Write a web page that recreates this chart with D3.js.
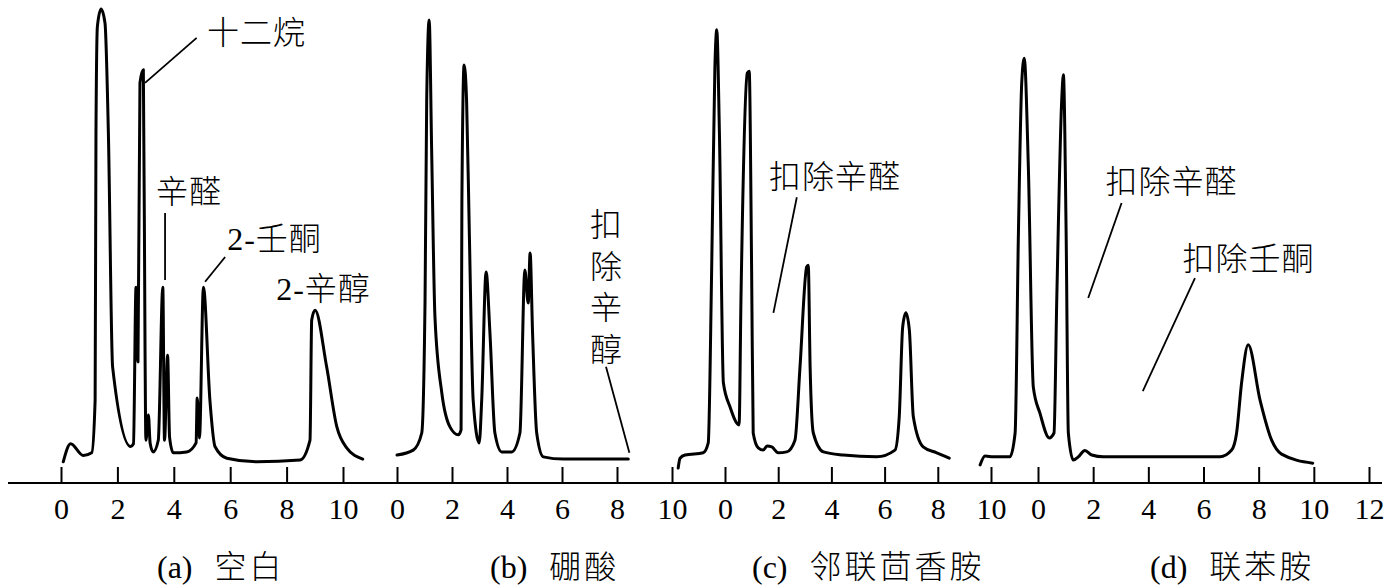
<!DOCTYPE html>
<html><head><meta charset="utf-8">
<script src="https://cdn.jsdelivr.net/npm/d3@7"></script>
<style>
html,body{margin:0;padding:0;background:#fff;}
svg text{font-family:"Liberation Serif","Noto Sans CJK SC",serif;fill:#000;font-weight:300;}
</style></head>
<body><svg id="chart" width="1395" height="587"></svg>
<script>
// ---------- data (time in min, signal in arbitrary units) ----------
const panelLetters = ["(a)", "(b)", "(c)", "(d)"];
const panelNames = ["空白", "硼酸", "邻联茴香胺", "联苯胺"];
const ticksA = [0, 2, 4, 6, 8, 10];
const ticksB = [0, 2, 4, 6, 8, 10];
const ticksC = [0, 2, 4, 6, 8, 10];
const ticksD = [0, 2, 4, 6, 8, 10, 12];

const timeA = [0.08,0.34,0.79,1.09,1.21,1.24,1.29,1.42,1.56,1.68,1.83,2.47,2.57,2.66,2.73,2.80,2.92,2.98,3.01,3.10,3.16,3.27,3.45,3.61,3.67,3.78,3.85,3.98,4.46,4.79,4.83,4.91,5.05,5.28,5.46,5.88,6.94,8.48,8.83,8.89,9.01,9.42,9.78,10.13,10.70];
const signalA = [-0.4,3.6,1.0,1.6,13.3,72.7,96.3,100.2,97.1,72.7,20.7,3.0,3.6,38.4,21.8,83.8,86.7,24.4,4.4,10.0,3.8,1.8,4.4,38.4,4.4,23.3,5.1,1.6,1.8,3.8,13.8,4.9,38.4,13.3,3.0,0.4,-0.4,0.0,4.4,31.1,33.3,20.7,7.4,2.7,0.2];

const timeB = [0.0,0.59,0.90,1.02,1.08,1.17,1.26,1.38,1.63,1.93,2.23,2.33,2.36,2.44,2.53,2.63,2.77,2.99,3.08,3.24,3.38,3.56,3.81,4.17,4.47,4.65,4.77,4.84,4.93,5.08,5.32,6.05,8.41];
const signalB = [1.1,2.2,6.0,35.6,80.0,97.8,68.9,31.8,14.9,7.3,5.6,6.7,57.8,87.8,80.0,50.4,13.3,3.8,13.3,41.8,28.2,6.0,1.8,1.8,6.0,42.2,34.9,46.0,28.2,6.0,0.7,0.2,0.2];

const timeC = [-1.76,-1.69,-1.50,-0.82,-0.63,-0.50,-0.38,-0.31,-0.21,-0.06,0.19,0.53,0.60,0.84,0.91,1.00,1.06,1.25,1.44,1.58,1.76,2.00,2.32,2.63,2.82,3.07,3.13,3.20,3.32,3.70,4.45,5.70,6.39,6.55,6.68,6.80,6.93,7.08,7.45,7.96,8.43];
const signalC = [-1.8,0.4,1.1,1.6,3.8,42.9,87.3,95.6,72.7,17.1,11.8,7.8,35.6,86.0,86.4,42.9,6.0,2.7,2.2,3.1,2.9,1.6,1.8,4.4,20.7,42.9,43.3,20.7,6.0,1.8,1.1,0.7,2.2,9.6,29.6,32.7,28.9,9.6,2.9,1.6,0.4];

const timeD = [-2.10,-1.92,-1.62,-1.02,-0.83,-0.71,-0.59,-0.50,-0.35,-0.17,0.07,0.41,0.58,0.68,0.86,0.92,1.02,1.10,1.28,1.46,1.70,1.95,2.37,6.60,7.02,7.20,7.38,7.62,8.05,8.47,8.83,9.96];
const signalD = [-1.1,0.9,0.7,0.7,6.0,50.4,83.8,89.3,65.1,16.2,10.4,4.9,6.0,35.6,80.0,85.6,50.4,6.0,0.0,0.7,2.1,1.1,0.7,0.7,2.2,6.0,17.1,25.6,13.3,4.4,1.3,-0.7];

// annotations: [panel, text, textTime, textSignal, lineFrom(t,v), lineTo(t,v), anchor]
const annotations = [
  [0, "十二烷", 5.18, 92.4, [4.81, 93.8], [2.98, 83.8], "start"],
  [0, "辛醛", 4.54, 57.1, [3.69, 54.9], [3.69, 40.0], "middle"],
  [0, "2-壬酮", 7.57, 46.7, [5.82, 45.1], [5.11, 39.6], "middle"],
  [0, "2-辛醇", 9.31, 35.6, null, null, "middle"],
  [2, "扣除辛醛", 4.14, 60.4, [2.70, 58.4], [1.82, 32.7], "middle"],
  [3, "扣除辛醛", 4.84, 59.3, [3.03, 57.1], [1.82, 36.0], "middle"],
  [3, "扣除壬酮", 7.63, 42.2, [5.69, 40.4], [3.80, 15.3], "middle"]
];
const verticalNote = { panel: 1, text: "扣除辛醇", time: 7.6, from: [7.6, 20.7], to: [8.45, 1.6] };

// ---------- layout ----------
const svg = d3.select("#chart");
const axisY = 483;
const y = d3.scaleLinear().domain([0, 100]).range([460, 10]);
const panels = [
  { x: d3.scaleLinear().domain([0, 10]).range([61, 343]), ticks: ticksA, t: timeA, s: signalA, titleX: 157 },
  { x: d3.scaleLinear().domain([0, 10]).range([397, 672]), ticks: ticksB, t: timeB, s: signalB, titleX: 490 },
  { x: d3.scaleLinear().domain([0, 10]).range([725, 991]), ticks: ticksC, t: timeC, s: signalC, titleX: 752 },
  { x: d3.scaleLinear().domain([0, 12]).range([1038, 1369]), ticks: ticksD, t: timeD, s: signalD, titleX: 1150 }
];

// baseline axis line
svg.append("line").attr("x1", 8).attr("x2", 1382).attr("y1", axisY).attr("y2", axisY)
  .attr("stroke", "#000").attr("stroke-width", 2.2);

panels.forEach((p, i) => {
  const g = svg.append("g").attr("transform", `translate(0,${axisY})`)
    .call(d3.axisBottom(p.x).tickValues(p.ticks).tickFormat(d3.format("d"))
      .tickSizeInner(-16).tickSizeOuter(0).tickPadding(15));
  g.select(".domain").remove();
  g.selectAll(".tick line").attr("stroke", "#000").attr("stroke-width", 2);
  g.selectAll(".tick text").attr("font-size", 30).attr("fill", "#000")
    .style("font-family", "'Liberation Serif', serif").style("font-weight", 400);

  const pts = p.t.map((t, k) => [t, p.s[k]]);
  const line = d3.line().x(d => p.x(d[0])).y(d => y(d[1])).curve(d3.curveMonotoneX);
  svg.append("path").datum(pts).attr("d", line)
    .attr("fill", "none").attr("stroke", "#000").attr("stroke-width", 3)
    .attr("stroke-linejoin", "round").attr("stroke-linecap", "round");

  const title = svg.append("text").attr("x", p.titleX).attr("y", 578).attr("font-size", 32);
  title.append("tspan").style("font-weight", 400).text(panelLetters[i]);
  title.append("tspan").attr("dx", 22).attr("letter-spacing", 3).text(panelNames[i]);
});

annotations.forEach(a => {
  const p = panels[a[0]];
  svg.append("text").attr("x", p.x(a[2])).attr("y", y(a[3])).attr("text-anchor", a[6])
    .attr("font-size", 32).attr("letter-spacing", 1).text(a[1]);
  if (a[4]) {
    svg.append("line").attr("x1", p.x(a[4][0])).attr("y1", y(a[4][1]))
      .attr("x2", p.x(a[5][0])).attr("y2", y(a[5][1]))
      .attr("stroke", "#000").attr("stroke-width", 1.8);
  }
});

{
  const p = panels[verticalNote.panel];
  const chars = Array.from(verticalNote.text);
  const cx = p.x(verticalNote.time);
  chars.forEach((c, k) => {
    svg.append("text").attr("x", cx).attr("y", 236 + k * 41.5).attr("text-anchor", "middle")
      .attr("font-size", 32).text(c);
  });
  svg.append("line").attr("x1", p.x(verticalNote.from[0])).attr("y1", y(verticalNote.from[1]))
    .attr("x2", p.x(verticalNote.to[0])).attr("y2", y(verticalNote.to[1]))
    .attr("stroke", "#000").attr("stroke-width", 1.8);
}
</script></body></html>
